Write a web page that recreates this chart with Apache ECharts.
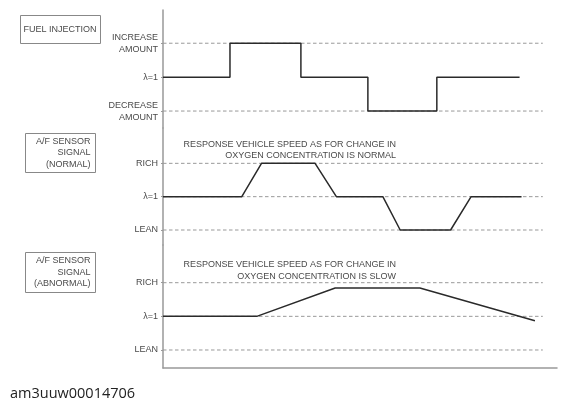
<!DOCTYPE html>
<html><head><meta charset="utf-8">
<script src="https://cdn.jsdelivr.net/npm/echarts@6/dist/echarts.min.js"></script>
<style>html,body{margin:0;padding:0;background:#fff}#c{width:569px;height:408px}</style>
</head><body><div id="c"></div>
<script>
// time axis (arbitrary units 0..100)
const fuelT = [0, 17, 17, 35, 35, 52, 52, 69.5, 69.5, 90.5];
const fuelV = [0, 0, 1, 1, 0, 0, -1, -1, 0, 0];
const normalT = [0, 20, 25, 38.6, 44, 55.8, 60.2, 73, 78.2, 91];
const normalV = [0, 0, 1, 1, 0, 0, -1, -1, 0, 0];
const abnormalT = [0, 23.8, 43.7, 65.2, 94.4];
const abnormalV = [0, 0, 0.84, 0.84, -0.13];
const levels = [-1, 0, 1];
const fuelLabels = ['DECREASE\nAMOUNT', 'λ=1', 'INCREASE\nAMOUNT'];
const sensorLabels = ['LEAN', 'λ=1', 'RICH'];
const refEnd = 96.4;
const fuelRefLevels = [1, -1];
const sensorRefLevels = [1, 0, -1];
const panelTitles = ['FUEL INJECTION', 'A/F SENSOR\nSIGNAL\n(NORMAL)', 'A/F SENSOR\nSIGNAL\n(ABNORMAL)'];
const responseNormal = 'RESPONSE VEHICLE SPEED AS FOR CHANGE IN\nOXYGEN CONCENTRATION IS NORMAL';
const responseSlow = 'RESPONSE VEHICLE SPEED AS FOR CHANGE IN\nOXYGEN CONCENTRATION IS SLOW';
const footer = 'am3uuw00014706';

const FONT = 'Liberation Sans, Arial, sans-serif';
const TXT = '#4a4a4a';
const chart = echarts.init(document.getElementById('c'), null, {renderer: 'canvas'});

const grids = [
  {left: 163, right: 12, top: 10, height: 118},
  {left: 163, right: 12, top: 128, height: 117},
  {left: 163, right: 12, top: 245, height: 123}
];
const yRanges = [[-1.50, 1.98], [-1.45, 2.06], [-1.535, 2.12]];
const labelSets = [fuelLabels, sensorLabels, sensorLabels];

const xAxes = grids.map((g, i) => ({
  gridIndex: i, type: 'value', min: 0, max: 100,
  axisLine: {show: i === 2, onZero: false, lineStyle: {color: '#999', width: 1.5}},
  axisTick: {show: false}, axisLabel: {show: false}, splitLine: {show: false}
}));
const yAxes = grids.map((g, i) => ({
  gridIndex: i, type: 'value', min: yRanges[i][0], max: yRanges[i][1],
  axisLine: {show: true, lineStyle: {color: '#999', width: 1.5}},
  axisTick: {show: true, customValues: levels, length: 2, lineStyle: {color: '#999'}},
  axisLabel: {
    customValues: levels, margin: 5, fontSize: 9, fontFamily: FONT, color: TXT,
    lineHeight: 12, align: 'right',
    formatter: v => labelSets[i][levels.indexOf(Math.round(v))] || ''
  },
  splitLine: {show: false}
}));

function refSeries(gi, lv) {
  return {
    type: 'line', xAxisIndex: gi, yAxisIndex: gi, symbol: 'none', silent: true,
    data: [[0, lv], [refEnd, lv]],
    lineStyle: {color: '#999', width: 1, type: [3.5, 2.5]}, z: 1
  };
}
function sigSeries(gi, ts, vs) {
  return {
    type: 'line', xAxisIndex: gi, yAxisIndex: gi, symbol: 'none', silent: true,
    data: ts.map((t, k) => [t, vs[k]]),
    lineStyle: {color: '#2a2a2a', width: 1.5}, z: 5
  };
}
const series = [];
fuelRefLevels.forEach(l => series.push(refSeries(0, l)));
sensorRefLevels.forEach(l => series.push(refSeries(1, l)));
sensorRefLevels.forEach(l => series.push(refSeries(2, l)));
series.push(sigSeries(0, fuelT, fuelV));
series.push(sigSeries(1, normalT, normalV));
series.push(sigSeries(2, abnormalT, abnormalV));

function box(x, y, w, h, text, align) {
  return {
    type: 'group', children: [
      {type: 'rect', shape: {x: x, y: y, width: w, height: h},
       style: {fill: '#fff', stroke: '#888', lineWidth: 1}},
      {type: 'text', x: align === 'left' ? x + 3 : x + w - 5, y: y + h / 2,
       style: {text: text, fontSize: 9, fontFamily: FONT, fill: TXT,
         textAlign: align, textVerticalAlign: 'middle', lineHeight: 11.5}}
    ]
  };
}

chart.setOption({
  animation: false,
  grid: grids,
  xAxis: xAxes,
  yAxis: yAxes,
  series: series,
  graphic: [
    box(20.5, 15.5, 80, 28, panelTitles[0], 'left'),
    box(25.5, 133.5, 70, 39, panelTitles[1], 'right'),
    box(25.5, 252.5, 70, 40, panelTitles[2], 'right'),
    {type: 'text', x: 396, y: 139, style: {text: responseNormal, fontSize: 9, fontFamily: FONT,
      fill: TXT, textAlign: 'right', textVerticalAlign: 'top', lineHeight: 11}},
    {type: 'text', x: 396, y: 259, style: {text: responseSlow, fontSize: 9, fontFamily: FONT,
      fill: TXT, textAlign: 'right', textVerticalAlign: 'top', lineHeight: 11.5}},
    {type: 'text', x: 10, y: 394, style: {text: footer, fontSize: 14.5, fontFamily: 'Open Sans, sans-serif',
      fill: '#222', textAlign: 'left', textVerticalAlign: 'middle'}}
  ]
});
</script></body></html>
